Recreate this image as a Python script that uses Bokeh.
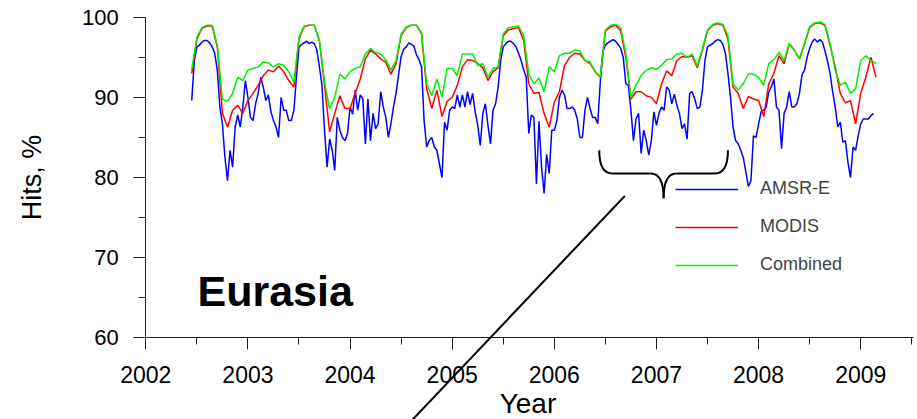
import math
from bokeh.plotting import figure
from bokeh.models import Legend, LegendItem, Label, Arrow, SingleIntervalTicker, Range1d
from bokeh.embed import file_html
from bokeh.resources import INLINE

# ---- data ----
# AMSR-E, sampled every 0.025 yr from 2002.45
amsr_start, amsr_step = 2002.45, 0.025
amsr = [89.6, 94.6, 96.3, 96.5, 96.9, 97.1, 97.1, 96.8, 96.3, 95.5,
        93.4, 88.8, 86.7, 82.5, 79.6, 83.4, 81.3, 86.3, 87.8, 86.3,
        88.8, 92.1, 90.0, 87.5, 87.1, 89.2, 90.5, 92.5, 91.3, 89.6,
        90.3, 88.2, 87.1, 86.3, 85.0, 90.0, 88.4, 88.4, 87.1, 87.1,
        88.4, 92.5, 96.3, 96.6, 96.8, 97.0, 96.7, 96.9, 96.7, 95.9,
        93.8, 91.5, 85.9, 81.3, 84.8, 83.4, 80.9, 87.5, 85.9, 85.0,
        84.6, 85.5, 88.8, 87.9, 90.9, 88.4, 90.3, 89.8, 84.2, 89.8,
        84.6, 88.0, 86.1, 86.7, 90.7, 88.8, 87.5, 85.0, 86.7, 88.8,
        90.5, 92.8, 95.1, 96.0, 96.3, 96.8, 96.6, 96.4, 95.3, 94.7,
        93.8, 87.1, 83.8, 84.6, 85.0, 83.8, 83.4, 81.7, 80.0, 86.9,
        85.9, 88.4, 88.8, 88.6, 90.3, 88.8, 90.3, 88.8, 90.7, 89.1,
        90.5, 88.2, 86.5, 84.0, 88.0, 89.2, 86.5, 84.2, 88.4, 89.2,
        91.3, 94.6, 96.3, 96.7, 97.0, 97.0, 96.7, 96.3, 95.5, 94.6,
        93.4, 92.5, 85.5, 87.8, 87.5, 79.2, 87.0, 81.3, 78.0, 82.9,
        80.5, 85.9, 85.9, 87.1, 90.0, 90.9, 90.3, 88.6, 88.6, 88.8,
        88.4, 87.3, 85.0, 85.0, 88.4, 90.0, 88.6, 87.5, 87.5, 86.7,
        91.9, 95.7, 96.5, 96.8, 97.0, 97.2, 97.0, 96.6, 96.1, 95.0,
        91.7, 91.5, 88.4, 84.6, 87.3, 88.0, 83.0, 85.9, 84.6, 82.8,
        84.6, 88.2, 86.5, 88.0, 88.8, 88.4, 91.3, 90.9, 89.2, 90.4,
        89.0, 88.0, 86.1, 86.7, 84.8, 90.5, 90.7, 89.8, 88.6, 88.8,
        90.9, 94.6, 96.3, 96.5, 96.7, 97.0, 97.2, 97.1, 96.6, 95.5,
        93.0, 90.0, 86.3, 84.6, 84.2, 83.4, 82.5, 80.7, 78.9, 79.6,
        85.2, 85.0, 86.7, 88.2, 88.4, 88.8, 90.7, 91.3, 92.3, 88.8,
        88.4, 83.6, 88.0, 88.8, 90.7, 88.8, 88.8, 89.2, 90.5, 92.8,
        93.4, 95.0, 96.1, 96.9, 97.3, 96.9, 97.2, 96.9, 95.8, 94.5,
        93.0, 90.7, 88.8, 86.3, 86.9, 84.4, 84.6, 81.9, 80.0, 83.8,
        83.4, 85.2, 86.7, 87.3, 87.3, 87.3, 87.7, 88.0]

# MODIS and Combined, sampled every 0.05 yr from 2002.45
opt_start, opt_step = 2002.45, 0.05
modis = [93.0, 97.3, 98.6, 98.9, 98.9, 96.3, 88.0, 86.3, 88.4, 89.0,
         88.0, 89.6, 90.5, 91.5, 92.7, 93.4, 93.2, 93.9, 93.2, 92.1,
         91.3, 97.3, 98.8, 99.0, 99.0, 97.0, 91.5, 85.7, 88.0, 90.2,
         88.6, 88.6, 90.5, 92.3, 94.8, 95.9, 95.4, 94.8, 94.4, 92.9,
         94.2, 97.7, 98.7, 99.0, 99.0, 97.9, 91.1, 88.6, 90.9, 87.6,
         89.5, 90.0, 91.5, 93.8, 94.7, 94.6, 94.2, 93.7, 92.1, 93.2,
         93.7, 97.7, 98.4, 98.6, 98.7, 97.1, 91.7, 90.5, 90.6, 88.0,
         86.3, 89.4, 90.7, 94.0, 95.0, 95.5, 95.4, 94.6, 94.2, 93.2,
         92.5, 98.3, 98.8, 99.0, 98.3, 95.0, 89.8, 90.7, 90.7, 90.2,
         90.0, 89.2, 91.7, 93.3, 92.7, 94.6, 95.1, 95.0, 95.2, 93.7,
         95.9, 98.3, 99.0, 99.2, 99.0, 97.3, 91.3, 90.5, 88.6, 90.1,
         89.8, 89.6, 87.6, 91.7, 93.0, 95.2, 94.2, 96.7, 95.9, 94.8,
         96.7, 98.7, 99.2, 99.3, 99.0, 96.5, 93.8, 90.5, 89.3, 89.6,
         86.7, 90.5, 92.5, 95.0, 92.5]

combined = [93.5, 97.5, 98.7, 99.0, 99.0, 96.5, 89.8, 89.5, 90.5, 92.5,
            92.1, 93.4, 93.6, 93.8, 94.4, 94.3, 93.8, 94.2, 94.0, 93.2,
            91.9, 97.5, 98.9, 99.0, 99.0, 97.1, 91.9, 88.6, 90.0, 92.9,
            92.3, 93.2, 93.6, 93.8, 95.4, 96.1, 95.6, 95.4, 94.7, 93.4,
            94.6, 97.9, 98.8, 99.0, 99.0, 98.0, 91.7, 90.2, 92.3, 90.0,
            93.6, 93.6, 92.7, 95.4, 95.4, 95.4, 94.0, 94.2, 92.5, 93.6,
            93.8, 97.9, 98.7, 98.8, 98.9, 97.7, 92.9, 91.7, 92.4, 90.7,
            93.8, 93.2, 95.2, 95.5, 95.5, 95.9, 95.8, 94.6, 94.4, 93.2,
            92.5, 98.4, 99.0, 99.1, 98.7, 95.5, 90.0, 91.5, 92.7, 93.4,
            93.7, 93.5, 94.0, 94.7, 94.8, 95.4, 95.5, 95.0, 95.4, 93.9,
            96.1, 98.4, 99.1, 99.3, 99.1, 97.7, 91.7, 90.9, 91.7, 92.9,
            92.9, 92.5, 91.5, 94.2, 94.7, 95.6, 94.6, 96.7, 95.9, 94.8,
            96.7, 98.8, 99.3, 99.4, 99.1, 96.7, 93.4, 91.5, 91.9, 90.5,
            91.1, 94.6, 95.2, 94.6, 94.2]

amsr_dates = [round(amsr_start + amsr_step * i, 4) for i in range(len(amsr))]
opt_dates = [round(opt_start + opt_step * i, 4) for i in range(len(modis))]

series_names = ["AMSR-E", "MODIS", "Combined"]
series_colors = ["#0000ff", "#ff0000", "#00f000"]

year_ticks_bounds = (2002, 2009.52)
hits_bounds = (60, 100)

# annotation anchors (data units)
brace_x0, brace_x1 = 2006.44, 2007.70
brace_top, brace_mid, brace_tip = 83.4, 80.5, 77.4
pointer_start = (2006.69, 77.7)
pointer_end = (2004.33, 46.0)

FONT = "Liberation Sans"

p = figure(width=917, height=419, output_backend="svg", toolbar_location=None,
           x_range=Range1d(2000.5773, 2009.556), y_range=Range1d(49.807, 102.084),
           min_border_left=0, min_border_right=0, min_border_top=0, min_border_bottom=0)
p.xgrid.visible = False
p.ygrid.visible = False
p.outline_line_color = None
p.background_fill_color = "white"
p.border_fill_color = "white"

renderers = []
for xs, vals, col in zip([amsr_dates, opt_dates, opt_dates], [amsr, modis, combined], series_colors):
    renderers.append(p.line(xs, vals, line_color=col, line_width=1.5))

# axes drawn at fixed data locations so the frame can span the whole picture
xax = p.xaxis[0]
yax = p.yaxis[0]
xax.fixed_location = hits_bounds[0]
yax.fixed_location = year_ticks_bounds[0]
xax.bounds = year_ticks_bounds
yax.bounds = hits_bounds
xax.ticker = SingleIntervalTicker(interval=1, num_minor_ticks=2)
yax.ticker = SingleIntervalTicker(interval=10, num_minor_ticks=2)
for ax in (xax, yax):
    ax.major_tick_in = 0
    ax.major_tick_out = 12
    ax.minor_tick_in = 0
    ax.minor_tick_out = 7
    ax.axis_line_color = "#222222"
    ax.major_tick_line_color = "#222222"
    ax.minor_tick_line_color = "#222222"
    ax.major_label_text_font = FONT
    ax.major_label_text_color = "black"
xax.major_label_text_font_size = "23px"
yax.major_label_text_font_size = "22px"
xax.major_label_standoff = 16
yax.major_label_standoff = 15

# axis titles
p.add_layout(Label(x=(year_ticks_bounds[0] + year_ticks_bounds[1]) / 2 - 0.018, y=51.8,
                   text="Year", text_font=FONT, text_font_size="28px",
                   text_align="center", text_baseline="middle", text_color="black"))
p.add_layout(Label(x=2000.887, y=(hits_bounds[0] + hits_bounds[1]) / 2,
                   text="Hits, %", text_font=FONT, text_font_size="27px", angle=math.pi / 2,
                   text_align="center", text_baseline="middle", text_color="black"))

# legend
legend = Legend(items=[LegendItem(label=n, renderers=[r]) for n, r in zip(series_names, renderers)],
                location=(675, 144), orientation="vertical",
                glyph_width=63, glyph_height=20, label_height=20, spacing=17,
                label_standoff=22, padding=0, margin=0,
                border_line_alpha=0, background_fill_alpha=0,
                label_text_font=FONT, label_text_font_size="18px")
p.add_layout(legend)

# region label
p.add_layout(Label(x=2002.506, y=65.8, text="Eurasia", text_font=FONT,
                   text_font_size="43px", text_font_style="bold",
                   text_baseline="middle", text_color="black"))

# brace
xc = (brace_x0 + brace_x1) / 2
dxr = 0.127
p.quadratic(x0=[brace_x0, xc - dxr, xc, brace_x1 - dxr],
            y0=[brace_top, brace_mid, brace_tip, brace_mid],
            x1=[brace_x0 + dxr, xc, xc + dxr, brace_x1],
            y1=[brace_mid, brace_tip, brace_mid, brace_top],
            cx=[brace_x0, xc, xc, brace_x1],
            cy=[brace_mid, brace_mid, brace_mid, brace_mid],
            line_color="black", line_width=2)
p.segment(x0=[brace_x0 + dxr, xc + dxr], y0=[brace_mid, brace_mid],
          x1=[xc - dxr, brace_x1 - dxr], y1=[brace_mid, brace_mid],
          line_color="black", line_width=2)

# pointer line
p.add_layout(Arrow(end=None, x_start=pointer_start[0], y_start=pointer_start[1],
                   x_end=pointer_end[0], y_end=pointer_end[1],
                   line_color="black", line_width=2))

open("out.html", "w").write(file_html(p, INLINE))
